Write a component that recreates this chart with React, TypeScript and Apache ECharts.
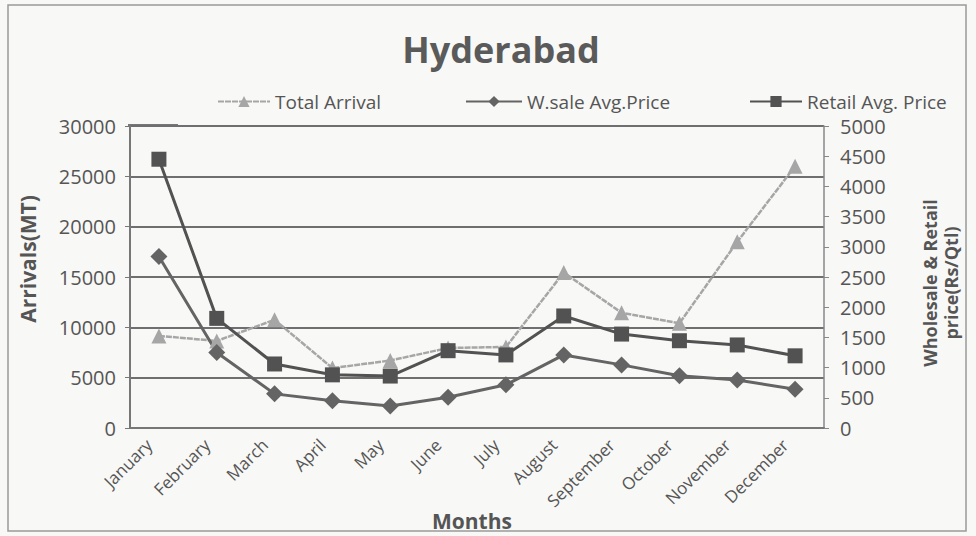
import React, { useEffect, useRef } from "react";
import * as echarts from "echarts";

const months = ["January", "February", "March", "April", "May", "June", "July", "August", "September", "October", "November", "December"];
const totalArrival = [9150, 8650, 10750, 5950, 6700, 7950, 8050, 15450, 11450, 10400, 18500, 26000];
const wsalePrice = [2840, 1250, 565, 450, 365, 510, 715, 1210, 1045, 865, 795, 640];
const retailPrice = [4450, 1815, 1060, 880, 860, 1280, 1210, 1855, 1555, 1445, 1375, 1195];
const leftTicks = { min: 0, max: 30000, interval: 5000 };
const rightTicks = { min: 0, max: 5000, interval: 500 };

const FONT = "'Open Sans', 'Liberation Sans', sans-serif";
const TXT = "#555";

export default function App() {
  const ref = useRef<HTMLDivElement>(null);
  useEffect(() => {
    const chart = echarts.init(ref.current!, null, { renderer: "svg" });
    const legendText = { fontSize: 19, color: TXT, fontFamily: FONT };
    chart.setOption({
      animation: false,
      backgroundColor: "#f8f8f6",
      textStyle: { fontFamily: FONT },
      title: {
        text: "Hyderabad",
        left: 496,
        top: 26,
        textAlign: "center",
        textStyle: { fontSize: 36, fontWeight: "bold", color: "#5a5a5a", fontFamily: FONT },
      },
      legend: [
        { data: ["Total Arrival"], left: 212, top: 87, itemWidth: 52, itemHeight: 14, textStyle: legendText },
        { data: ["W.sale Avg.Price"], left: 460, top: 87, itemWidth: 56, itemHeight: 14, textStyle: legendText },
        { data: ["Retail Avg. Price"], left: 744, top: 87, itemWidth: 52, itemHeight: 14, textStyle: legendText },
      ],
      grid: { left: 130, right: 152, top: 126, bottom: 108, containLabel: false },
      xAxis: {
        type: "category",
        data: months,
        boundaryGap: true,
        axisLine: { lineStyle: { color: "#777", width: 2 } },
        axisTick: { show: false },
        axisLabel: { rotate: 45, fontSize: 17, color: TXT, margin: 4, padding: [0, 14, 0, 0], interval: 0, fontFamily: FONT },
      },
      yAxis: [
        {
          type: "value",
          ...leftTicks,
          axisLine: { show: true, lineStyle: { color: "#777", width: 2 } },
          axisTick: { show: true, inside: false, length: 5, lineStyle: { color: "#777" } },
          axisLabel: { fontSize: 20, color: TXT, margin: 14, fontFamily: FONT, formatter: (v: number) => String(v) },
          splitLine: { show: true, lineStyle: { color: "#6f6f6f", width: 2 } },
        },
        {
          type: "value",
          ...rightTicks,
          position: "right",
          axisLine: { show: true, lineStyle: { color: "#888", width: 1.5 } },
          axisTick: { show: true, length: 5, lineStyle: { color: "#888" } },
          axisLabel: { fontSize: 20, color: TXT, margin: 16, fontFamily: FONT, formatter: (v: number) => String(v) },
          splitLine: { show: false },
        },
      ],
      graphic: [
        {
          type: "rect",
          shape: { x: 8, y: 5, width: 958, height: 526 },
          style: { fill: "none", stroke: "#999", lineWidth: 1.5 },
          silent: true,
        },
        {
          type: "line",
          shape: { x1: 128, y1: 125, x2: 178, y2: 125 },
          style: { stroke: "#777", lineWidth: 2 },
          silent: true,
        },
        {
          type: "text",
          x: 28, y: 259, rotation: Math.PI / 2,
          style: { text: "Arrivals(MT)", fontSize: 21, fontWeight: "bold", fill: TXT, align: "center", verticalAlign: "middle", fontFamily: FONT },
        },
        {
          type: "text",
          x: 940, y: 283, rotation: Math.PI / 2,
          style: { text: "Wholesale & Retail\nprice(Rs/Qtl)", fontSize: 18, lineHeight: 21, fontWeight: "bold", fill: TXT, align: "center", verticalAlign: "middle", fontFamily: FONT },
        },
        {
          type: "text",
          x: 472, y: 521,
          style: { text: "Months", fontSize: 21, fontWeight: "bold", fill: TXT, align: "center", verticalAlign: "middle", fontFamily: FONT },
        },
      ],
      series: [
        {
          name: "Total Arrival",
          type: "line",
          yAxisIndex: 0,
          data: totalArrival,
          symbol: "triangle",
          symbolSize: 15,
          itemStyle: { color: "#a6a6a6" },
          lineStyle: { color: "#a6a6a6", width: 2.5, type: [6, 1] },
        },
        {
          name: "W.sale Avg.Price",
          type: "line",
          yAxisIndex: 1,
          data: wsalePrice,
          symbol: "diamond",
          symbolSize: 17,
          itemStyle: { color: "#646464" },
          lineStyle: { color: "#646464", width: 3 },
        },
        {
          name: "Retail Avg. Price",
          type: "line",
          yAxisIndex: 1,
          data: retailPrice,
          symbol: "rect",
          symbolSize: 15,
          itemStyle: { color: "#525252" },
          lineStyle: { color: "#525252", width: 3 },
          z: 3,
        },
      ],
    });
    return () => chart.dispose();
  }, []);
  return <div ref={ref} style={{ width: 976, height: 536, position: "fixed", left: 0, top: 0 }} />;
}
